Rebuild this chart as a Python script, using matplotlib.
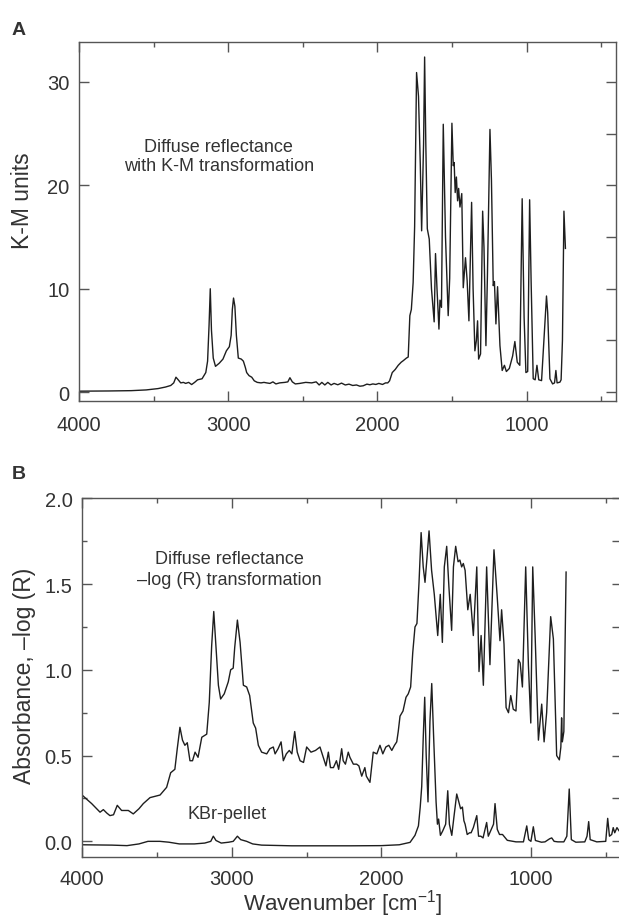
import matplotlib
matplotlib.use("Agg")
import matplotlib.pyplot as plt

# =========================
# DATA
# =========================

# panel A: diffuse reflectance, K-M units
KM_WN = [4000, 3800, 3650, 3550, 3470, 3420, 3385, 3365, 3350, 3335, 3318, 3300,
         3285, 3265, 3245, 3225, 3205, 3175, 3150, 3138, 3128, 3120, 3112, 3100,
         3085, 3060, 3035, 3012, 2992, 2980, 2972, 2964, 2955, 2945, 2932, 2912,
         2898, 2885, 2876, 2860, 2842, 2825, 2805, 2780, 2760, 2742, 2720, 2700,
         2680, 2655, 2620, 2600, 2586, 2570, 2550, 2520, 2480, 2440, 2410, 2390,
         2372, 2352, 2332, 2310, 2290, 2265, 2240, 2215, 2190, 2165, 2140, 2117,
         2095, 2070, 2050, 2030, 2010, 1990, 1965, 1945, 1930, 1918, 1900, 1880,
         1860, 1840, 1826, 1805, 1793, 1782, 1772, 1760, 1750, 1737, 1724, 1712,
         1703, 1690, 1683, 1675, 1665, 1652, 1637, 1619, 1610, 1600, 1587, 1580,
         1570, 1558, 1543, 1525, 1515, 1500, 1491, 1485, 1478, 1470, 1462, 1455,
         1446, 1434, 1424, 1409, 1398, 1386, 1368, 1358, 1346, 1336, 1328, 1321,
         1308, 1294, 1285, 1272, 1262, 1245, 1235, 1223, 1215, 1205, 1194, 1178,
         1163, 1148, 1135, 1115, 1093, 1078, 1062, 1045, 1029, 1016, 1004, 992,
         979, 969, 955, 942, 930, 918, 899, 884, 866, 858, 843, 825, 812, 803,
         795, 776, 768, 759, 749, 739]
KM_VAL = [0.1, 0.12, 0.15, 0.22, 0.35, 0.5, 0.65, 0.9, 1.45, 1.2, 0.9, 0.95,
          0.85, 0.95, 0.74, 0.95, 1.2, 1.3, 1.9, 3.0, 6.5, 10.0, 6.0, 3.3,
          2.5, 2.8, 3.2, 4.0, 4.4, 5.5, 8.0, 9.1, 8.3, 5.5, 3.3, 3.2,
          3.0, 2.4, 1.9, 1.6, 1.45, 1.1, 0.95, 0.9, 0.95, 0.9, 0.85, 1.0,
          0.8, 0.9, 0.95, 1.0, 1.4, 1.0, 0.8, 0.85, 0.95, 0.9, 1.0, 0.7,
          0.95, 0.7, 0.95, 0.7, 0.85, 0.72, 0.88, 0.7, 0.78, 0.65, 0.7, 0.58,
          0.62, 0.78, 0.72, 0.8, 0.75, 0.85, 0.75, 0.9, 0.9, 1.1, 1.9, 2.2,
          2.6, 2.9, 3.05, 3.3, 3.4, 7.4, 8.0, 10.6, 16.0, 30.9, 28.6, 22.0,
          15.6, 24.0, 32.4, 24.0, 15.8, 14.8, 10.0, 6.8, 13.4, 10.0, 6.1, 8.9,
          8.2, 25.9, 15.0, 7.4, 11.0, 26.0, 21.9, 22.2, 19.3, 20.8, 18.5, 19.7,
          17.9, 19.2, 10.1, 13.0, 10.8, 6.9, 18.35, 10.0, 4.0, 5.0, 6.9, 3.2,
          3.7, 17.5, 14.0, 4.5, 11.2, 25.4, 20.5, 10.3, 10.7, 6.6, 10.2, 4.5,
          2.1, 2.6, 2.0, 2.3, 3.5, 4.9, 2.9, 2.6, 18.7, 7.2, 1.9, 2.0,
          18.6, 10.7, 1.3, 1.2, 2.6, 1.2, 1.12, 4.8, 9.3, 7.7, 1.3, 0.8, 0.9, 2.1,
          0.9, 0.97, 1.2, 5.0, 17.5, 13.9]

# panel B: diffuse reflectance, -log(R)
DR_WN = [4000, 3975, 3936, 3902, 3880, 3858, 3835, 3814, 3790, 3765, 3736, 3691,
         3658, 3620, 3591, 3546, 3479, 3435, 3408, 3380, 3364, 3346, 3329, 3313,
         3297, 3279, 3262, 3245, 3225, 3200, 3167, 3150, 3134, 3120, 3104, 3089,
         3074, 3050, 3023, 3007, 2990, 2980, 2962, 2944, 2922, 2900, 2880, 2856,
         2840, 2822, 2800, 2766, 2745, 2722, 2710, 2690, 2670, 2655, 2635, 2615,
         2598, 2579, 2562, 2543, 2520, 2499, 2470, 2440, 2410, 2388, 2370, 2354,
         2340, 2320, 2300, 2285, 2265, 2255, 2240, 2221, 2210, 2187, 2165, 2150,
         2131, 2110, 2100, 2076, 2054, 2030, 2009, 1990, 1970, 1950, 1930, 1912,
         1897, 1887, 1875, 1855, 1835, 1820, 1804, 1790, 1775, 1762, 1748, 1734,
         1720, 1708, 1695, 1681, 1664, 1646, 1623, 1606, 1592, 1579, 1563, 1548,
         1530, 1518, 1503, 1487, 1475, 1463, 1452, 1440, 1422, 1406, 1385, 1362,
         1347, 1333, 1318, 1296, 1274, 1247, 1225, 1207, 1196, 1180, 1166, 1150,
         1135, 1118, 1100, 1084, 1072, 1057, 1035, 1017, 1001, 988, 972, 950,
         928, 912, 895, 868, 850, 828, 810, 800, 795, 790, 780, 765]
DR_VAL = [0.27, 0.25, 0.22, 0.19, 0.17, 0.185, 0.165, 0.15, 0.155, 0.21, 0.18, 0.18,
          0.16, 0.19, 0.22, 0.255, 0.27, 0.315, 0.40, 0.42, 0.54, 0.665, 0.59, 0.56,
          0.575, 0.47, 0.47, 0.52, 0.49, 0.607, 0.625, 0.81, 1.14, 1.34, 1.12, 0.91,
          0.83, 0.86, 0.93, 1.0, 1.01, 1.13, 1.29, 1.16, 0.91, 0.9, 0.85, 0.69,
          0.66, 0.56, 0.52, 0.51, 0.54, 0.55, 0.51, 0.54, 0.58, 0.47, 0.51, 0.53,
          0.51, 0.64, 0.52, 0.47, 0.46, 0.55, 0.52, 0.53, 0.55, 0.49, 0.44, 0.52,
          0.43, 0.43, 0.47, 0.42, 0.54, 0.47, 0.45, 0.52, 0.49, 0.45, 0.45, 0.44,
          0.38, 0.43, 0.38, 0.344, 0.52, 0.51, 0.56, 0.51, 0.55, 0.56, 0.53, 0.56,
          0.58, 0.64, 0.73, 0.76, 0.84, 0.86, 0.90, 1.10, 1.25, 1.27, 1.51, 1.80,
          1.60, 1.51, 1.65, 1.81, 1.58, 1.44, 1.20, 1.44, 1.16, 1.60, 1.72, 1.48,
          1.23, 1.6, 1.72, 1.63, 1.64, 1.60, 1.62, 1.58, 1.35, 1.44, 1.2, 1.6,
          0.99, 1.2, 0.91, 1.6, 1.03, 1.70, 1.42, 1.17, 1.35, 1.15, 0.78, 0.75,
          0.85, 0.77, 0.76, 1.06, 1.04, 0.90, 1.6, 1.03, 0.69, 1.6, 1.2, 0.59,
          0.8, 0.58, 0.75, 1.31, 1.18, 0.50, 0.475, 0.55, 0.72, 0.58, 0.64, 1.57]

# panel B: KBr pellet
KBR_WN = [4000, 3800, 3700, 3620, 3560, 3480, 3420, 3350, 3250, 3180, 3140, 3123,
          3105, 3070, 3020, 2990, 2962, 2940, 2900, 2860, 2800, 2600, 2200, 2000,
          1880, 1808, 1775, 1752, 1740, 1730, 1720, 1710, 1700, 1688, 1675, 1663,
          1650, 1634, 1625, 1617, 1605, 1590, 1570, 1556, 1545, 1529, 1515, 1496,
          1482, 1470, 1458, 1448, 1440, 1426, 1410, 1400, 1385, 1362, 1350, 1335,
          1320, 1296, 1285, 1270, 1250, 1240, 1225, 1210, 1190, 1158, 1100, 1050,
          1028, 1015, 1000, 984, 970, 930, 906, 875, 861, 845, 820, 780,
          760, 744, 730, 700, 640, 625, 614, 604, 560, 500, 487, 475,
          460, 450, 440, 425, 410, 400]
KBR_VAL = [-0.02, -0.022, -0.025, -0.015, 0.0, 0.0, -0.005, -0.015, -0.015, -0.01, 0.0, 0.03,
           0.005, -0.01, -0.005, 0.0, 0.03, 0.01, 0.0, -0.015, -0.022, -0.026, -0.026, -0.025,
           -0.02, -0.006, 0.035, 0.09, 0.2, 0.32, 0.6, 0.84, 0.5, 0.23, 0.7, 0.92,
           0.6, 0.23, 0.1, 0.13, 0.035, 0.06, 0.1, 0.295, 0.1, 0.035, 0.14, 0.276,
           0.23, 0.19, 0.2, 0.12, 0.1, 0.04, 0.05, 0.05, 0.08, 0.15, 0.03, 0.03,
           0.02, 0.11, 0.03, 0.06, 0.1, 0.22, 0.07, 0.04, 0.04, 0.006, -0.003, -0.003,
           0.09, 0.01, 0.0, 0.085, 0.005, -0.005, -0.003, 0.015, 0.02, 0.0, -0.003, -0.003,
           0.03, 0.305, 0.01, -0.005, -0.003, 0.03, 0.115, 0.01, -0.003, 0.0, 0.134, 0.03,
           0.04, 0.08, 0.05, 0.08, 0.06, 0.07]

X_MAJOR = [4000, 3000, 2000, 1000]
X_MINOR = [3500, 2500, 1500, 500]
KM_TICKS = [0, 10, 20, 30]
KM_RIGHT_TICKS = [0, 5, 10, 15, 20, 25, 30]
ABS_TICKS = [0.0, 0.5, 1.0, 1.5, 2.0]
ABS_MINOR = [0.25, 0.75, 1.25, 1.75]
ABS_RIGHT_TICKS = [0.0, 0.25, 0.5, 0.75, 1.0, 1.25, 1.5, 1.75, 2.0]

# =========================
# STYLE
# =========================

FONT = "Liberation Sans"
TXT = "#333333"
LINE = "#1e1e1e"
SPINE = "#555555"

TICK_FS = 14.5
LABEL_FS = 16.5
NOTE_FS = 13

plt.rcParams["font.family"] = [FONT, "DejaVu Sans"]
plt.rcParams["mathtext.fontset"] = "custom"
plt.rcParams["mathtext.rm"] = FONT
plt.rcParams["mathtext.it"] = FONT
plt.rcParams["mathtext.default"] = "regular"


def style_axes(ax, xpad):
    for spine in ax.spines.values():
        spine.set_linewidth(1.0)
        spine.set_color(SPINE)
    ax.set_xlim(4000, 400)
    ax.set_xticks(X_MAJOR)
    ax.set_xticks(X_MINOR, minor=True)
    ax.tick_params(axis="x", which="both", direction="in", top=True,
                   bottom=True, color=SPINE, width=1.0)
    ax.tick_params(axis="x", which="major", length=7, pad=xpad,
                   labelsize=TICK_FS, labelcolor=TXT)
    ax.tick_params(axis="x", which="minor", length=3.4)
    ax.tick_params(axis="y", which="both", direction="in", left=True,
                   right=False, color=SPINE, width=1.0, pad=7,
                   labelsize=TICK_FS, labelcolor=TXT)
    ax.tick_params(axis="y", which="major", length=7)
    ax.tick_params(axis="y", which="minor", length=3.4)


def right_ticks(ax, ticks, length):
    twin = ax.twinx()
    twin.set_ylim(ax.get_ylim())
    twin.set_yticks(ticks)
    twin.tick_params(axis="y", direction="in", length=length, width=1.0,
                     color=SPINE, labelright=False)
    for spine in twin.spines.values():
        spine.set_visible(False)


def main():

    fig = plt.figure(figsize=(6.19, 9.20), dpi=100)

    # ---------- panel A ----------
    ax_a = fig.add_axes([79 / 619, 1 - 402 / 920, 537 / 619, 359.5 / 920])
    ax_a.plot(KM_WN, KM_VAL, color=LINE, linewidth=1.0)
    style_axes(ax_a, xpad=10)
    ax_a.set_ylim(-0.85, 33.9)
    ax_a.set_yticks(KM_TICKS)
    ax_a.set_ylabel("K-M units", fontsize=LABEL_FS, color=TXT)
    ax_a.yaxis.set_label_coords((23 - 79) / 537, 0.56)
    ax_a.yaxis.label.set_va("center")
    right_ticks(ax_a, KM_RIGHT_TICKS, 7.5)

    ax_a.text(3062, 22.8, "Diffuse reflectance\nwith K-M transformation",
              ha="center", va="center", fontsize=NOTE_FS, color=TXT,
              linespacing=1.15)

    fig.text(12 / 619, 1 - 35 / 920, "A", fontsize=14, fontweight="bold",
             color=TXT, va="baseline")

    # ---------- panel B ----------
    ax_b = fig.add_axes([82.1 / 619, 1 - 858.3 / 920, 538.6 / 619, 359 / 920])
    ax_b.plot(DR_WN, DR_VAL, color=LINE, linewidth=1.0)
    ax_b.plot(KBR_WN, KBR_VAL, color=LINE, linewidth=1.0)
    style_axes(ax_b, xpad=8.5)
    ax_b.set_ylim(-0.093, 2.0)
    ax_b.set_yticks(ABS_TICKS)
    ax_b.set_yticks(ABS_MINOR, minor=True)
    ax_b.set_yticklabels([f"{v:.1f}" for v in ABS_TICKS])
    ax_b.set_ylabel("Absorbance, \u2013log (R)", fontsize=LABEL_FS, color=TXT)
    ax_b.yaxis.set_label_coords((25 - 82.1) / 538.6, 0.508)
    ax_b.yaxis.label.set_va("center")
    right_ticks(ax_b, ABS_RIGHT_TICKS, 6.5)

    ax_b.set_xlabel(r"Wavenumber [cm$^{\mathregular{-1}}$]", fontsize=16,
                    color=TXT)
    ax_b.xaxis.set_label_coords((343 - 82.1) / 538.6, (858.3 - 910.5) / 359)
    ax_b.xaxis.label.set_va("baseline")

    ax_b.text(3017, 1.59, "Diffuse reflectance\n\u2013log (R) transformation",
              ha="center", va="center", fontsize=NOTE_FS, color=TXT,
              linespacing=1.3)
    ax_b.text(3031, 0.16, "KBr-pellet", ha="center", va="center",
              fontsize=NOTE_FS, color=TXT)

    fig.text(12 / 619, 1 - 479 / 920, "B", fontsize=14, fontweight="bold",
             color=TXT, va="baseline")

    fig.savefig("out.png", dpi=100, facecolor="white")


if __name__ == "__main__":
    main()
